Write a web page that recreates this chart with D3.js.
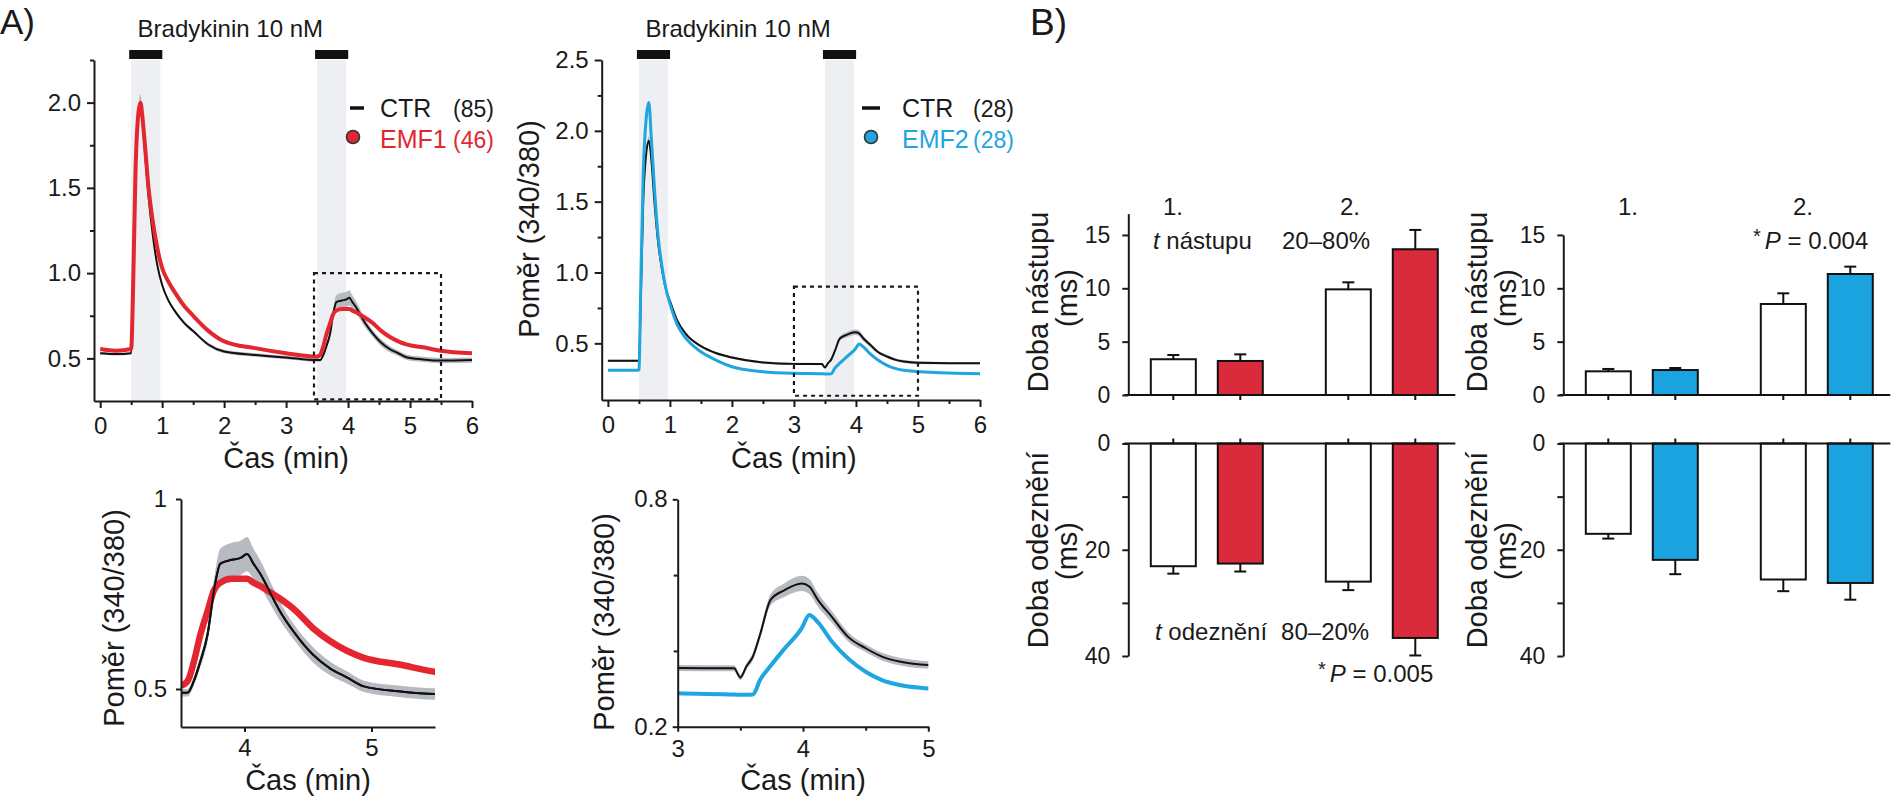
<!DOCTYPE html>
<html>
<head>
<meta charset="utf-8">
<script src="https://cdnjs.cloudflare.com/ajax/libs/d3/7.8.5/d3.min.js"></script>
<style>
  body { margin: 0; background: #fff; }
  svg text { font-family: "Liberation Sans", Arial, Helvetica, sans-serif; fill: #1a1a1a; }
  .axis path, .axis line { stroke: #1a1a1a; stroke-width: 2; }
  .axis text { font-size: 24px; }
  .bar-axis text { font-size: 23px; }
</style>
</head>
<body>
<script>
// ---- traces, panel A left (CTR vs EMF1) ----
const time1     = [0, 0.25, 0.5, 0.53, 0.57, 0.62, 0.65, 0.68, 0.72, 0.78, 0.85, 0.92, 1.0, 1.1, 1.2, 1.35, 1.5, 1.75, 2.0, 2.5, 3.0, 3.5, 3.55, 3.6, 3.65, 3.71, 3.76, 3.81, 3.9, 3.97, 4.02, 4.07, 4.13, 4.2, 4.27, 4.4, 4.54, 4.67, 4.81, 4.94, 5.21, 5.5, 6.0];
const ctr1Ratio = [0.53, 0.525, 0.53, 0.9, 1.6, 1.95, 2.0, 1.9, 1.72, 1.45, 1.22, 1.05, 0.93, 0.84, 0.78, 0.71, 0.66, 0.58, 0.54, 0.52, 0.505, 0.49, 0.49, 0.52, 0.57, 0.645, 0.76, 0.83, 0.84, 0.845, 0.855, 0.83, 0.8, 0.755, 0.71, 0.645, 0.59, 0.555, 0.53, 0.507, 0.494, 0.487, 0.49];
const ctr1Sem   = [0.008, 0.008, 0.008, 0.02, 0.03, 0.04, 0.05, 0.04, 0.03, 0.02, 0.015, 0.012, 0.01, 0.01, 0.01, 0.01, 0.01, 0.01, 0.01, 0.01, 0.01, 0.01, 0.01, 0.012, 0.015, 0.02, 0.03, 0.04, 0.045, 0.045, 0.045, 0.04, 0.035, 0.03, 0.025, 0.02, 0.02, 0.018, 0.016, 0.015, 0.015, 0.015, 0.015];
const emf1Ratio = [0.555, 0.545, 0.555, 0.9, 1.6, 1.95, 2.0, 1.92, 1.76, 1.5, 1.3, 1.15, 1.03, 0.95, 0.89, 0.81, 0.75, 0.66, 0.6, 0.56, 0.53, 0.51, 0.52, 0.57, 0.64, 0.706, 0.76, 0.78, 0.79, 0.79, 0.79, 0.78, 0.77, 0.755, 0.74, 0.707, 0.66, 0.627, 0.6, 0.582, 0.565, 0.545, 0.53];

// ---- traces, panel A right (CTR vs EMF2) ----
const time2     = [0, 0.5, 0.53, 0.57, 0.62, 0.66, 0.7, 0.75, 0.8, 0.88, 0.95, 1.0, 1.12, 1.25, 1.5, 1.75, 2.0, 2.5, 3.0, 3.45, 3.5, 3.55, 3.6, 3.66, 3.74, 3.85, 3.99, 4.05, 4.12, 4.23, 4.36, 4.5, 4.63, 4.77, 5.0, 5.5, 6.0];
const ctr2Ratio = [0.377, 0.377, 0.8, 1.5, 1.85, 1.93, 1.8, 1.5, 1.25, 1.0, 0.86, 0.8, 0.66, 0.57, 0.48, 0.43, 0.40, 0.365, 0.355, 0.354, 0.33, 0.36, 0.385, 0.446, 0.534, 0.56, 0.578, 0.57, 0.534, 0.49, 0.437, 0.407, 0.385, 0.372, 0.363, 0.36, 0.36];
const ctr2Sem   = [0.008, 0.008, 0.015, 0.02, 0.025, 0.03, 0.025, 0.02, 0.015, 0.012, 0.01, 0.01, 0.008, 0.008, 0.008, 0.008, 0.008, 0.008, 0.008, 0.008, 0.008, 0.008, 0.01, 0.012, 0.015, 0.018, 0.02, 0.02, 0.018, 0.015, 0.012, 0.01, 0.01, 0.01, 0.01, 0.008, 0.008];
const emf2Ratio = [0.31, 0.31, 0.9, 1.7, 2.1, 2.2, 1.95, 1.6, 1.3, 1.02, 0.86, 0.78, 0.63, 0.54, 0.44, 0.38, 0.335, 0.3, 0.288, 0.285, 0.284, 0.284, 0.285, 0.325, 0.36, 0.405, 0.46, 0.495, 0.475, 0.425, 0.38, 0.345, 0.323, 0.31, 0.301, 0.29, 0.285];

const stimWindows = [[0.5, 0.97], [3.5, 3.97]];

// ---- bars, panel B ----
const barGroups = ['1.', '2.'];
const barSeries = ['CTR', 'EMF'];
const onsetCtrA    = [3.35, 9.9];   const onsetCtrAErr = [0.4, 0.66];
const onsetEmf1    = [3.19, 13.66]; const onsetEmf1Err = [0.62, 1.81];
const decayCtrA    = [23.1, 26.0];  const decayCtrAErr = [1.4, 1.6];
const decayEmf1    = [22.6, 36.6];  const decayEmf1Err = [1.5, 3.3];
const onsetCtrB    = [2.22, 8.53];  const onsetCtrBErr = [0.22, 1.0];
const onsetEmf2    = [2.34, 11.34]; const onsetEmf2Err = [0.19, 0.69];
const decayCtrB    = [17.0, 25.6];  const decayCtrBErr = [0.9, 2.2];
const decayEmf2    = [21.9, 26.25]; const decayEmf2Err = [2.7, 3.15];

// ---- ticks ----
const timeTicks    = [0, 1, 2, 3, 4, 5, 6];
const timeMinor    = [0.5, 1.5, 2.5, 3.5, 4.5, 5.5];
const ratioTicksL  = [0.5, 1.0, 1.5, 2.0];
const ratioTicksR  = [0.5, 1.0, 1.5, 2.0, 2.5];
const ratioMinor   = [0.75, 1.25, 1.75, 2.25];
const inset1XTicks = [4, 5];
const inset1YTicks = [0.5, 1];
const inset2XTicks = [3, 4, 5];
const inset2XMinor = [3.5, 4.5];
const inset2YTicks = [0.2, 0.8];
const inset2YMinor = [0.4, 0.6];
const onsetTicks   = [0, 5, 10, 15];
const decayTicks   = [0, 20, 40];
const decayMinor   = [10, 30];

const RED      = '#e3262f';
const RED_BAR  = '#d92b3c';
const BLUE     = '#1fa5df';
const BLUE_BAR = '#1ba3e0';
const GREY     = '#b7bac1';
const BAND     = '#eeeff3';

const svg = d3.select( 'body' ).append( 'svg' )
              .attr( 'width', 1891 )
              .attr( 'height', 800 );

let clipCount = 0;

const zip = ( t, v, s ) => t.map( ( d, i ) => ( { t : d, v : v[i], s : s ? s[i] : 0 } ) );

const tracePanel = c => {
	const x = d3.scaleLinear().domain( c.xDomain ).range( c.xRange );
	const y = d3.scaleLinear().domain( c.yDomain ).range( c.yRange );
	const g = svg.append( 'g' );

	if ( c.stim ) {
		g.selectAll( null ).data( stimWindows ).enter().append( 'rect' )
		 .attr( 'x', d => x( d[0] ) )
		 .attr( 'width', d => x( d[1] ) - x( d[0] ) )
		 .attr( 'y', c.yRange[1] )
		 .attr( 'height', c.yRange[0] - c.yRange[1] )
		 .attr( 'fill', BAND );
		g.selectAll( null ).data( stimWindows ).enter().append( 'rect' )
		 .attr( 'x', d => x( d[0] ) - 2 )
		 .attr( 'width', d => x( d[1] ) - x( d[0] ) + 4 )
		 .attr( 'y', 50 )
		 .attr( 'height', 9 )
		 .attr( 'fill', '#111' );
		g.append( 'text' )
		 .attr( 'x', x( 2.1 ) ).attr( 'y', 37 )
		 .attr( 'text-anchor', 'middle' )
		 .style( 'font-size', '24px' )
		 .text( 'Bradykinin 10 nM' );
	}

	clipCount += 1;
	const id = 'clip' + clipCount;
	g.append( 'clipPath' ).attr( 'id', id ).append( 'rect' )
	 .attr( 'x', c.xRange[0] ).attr( 'y', c.yRange[1] - 12 )
	 .attr( 'width', c.xRange[1] - c.xRange[0] )
	 .attr( 'height', c.yRange[0] - c.yRange[1] + 12 );
	const plot = g.append( 'g' ).attr( 'clip-path', `url(#${id})` );

	const line = d3.line().x( d => x( d.t ) ).y( d => y( d.v ) ).curve( d3.curveMonotoneX );
	const area = d3.area().x( d => x( d.t ) )
	               .y0( d => y( d.v - d.s ) ).y1( d => y( d.v + d.s ) )
	               .curve( d3.curveMonotoneX );

	c.series.filter( s => s.sem ).forEach( s => {
		plot.append( 'path' ).datum( s.data ).attr( 'd', area ).attr( 'fill', GREY );
	} );
	c.series.forEach( s => {
		plot.append( 'path' ).datum( s.data )
		    .attr( 'd', line )
		    .attr( 'fill', 'none' )
		    .attr( 'stroke', s.color )
		    .attr( 'stroke-width', s.width )
		    .attr( 'stroke-linejoin', 'round' );
	} );

	if ( c.box ) {
		const b = c.box;
		g.append( 'rect' )
		 .attr( 'x', x( b[0] ) ).attr( 'y', y( b[3] ) )
		 .attr( 'width', x( b[1] ) - x( b[0] ) )
		 .attr( 'height', y( b[2] ) - y( b[3] ) )
		 .attr( 'fill', 'none' )
		 .attr( 'stroke', '#1a1a1a' )
		 .attr( 'stroke-width', 2.2 )
		 .attr( 'stroke-dasharray', '4 4' );
	}

	g.append( 'g' ).attr( 'class', 'axis' )
	 .attr( 'transform', `translate(0,${c.yRange[0]})` )
	 .call( d3.axisBottom( x ).tickValues( c.xTicks ).tickFormat( d3.format( 'd' ) )
	          .tickSize( c.tick ).tickPadding( c.xPad ).tickSizeOuter( 0 ) );
	if ( c.xMinor ) {
		g.append( 'g' ).attr( 'class', 'axis' )
		 .attr( 'transform', `translate(0,${c.yRange[0]})` )
		 .call( d3.axisBottom( x ).tickValues( c.xMinor ).tickFormat( '' ).tickSize( 4 ) )
		 .select( '.domain' ).remove();
	}
	g.append( 'g' ).attr( 'class', 'axis' )
	 .attr( 'transform', `translate(${c.xRange[0]},0)` )
	 .call( d3.axisLeft( y ).tickValues( c.yTicks ).tickFormat( d3.format( c.yFormat ) )
	          .tickSize( c.tick ).tickPadding( c.yPad ).tickSizeOuter( 0 ) );
	if ( c.yMinor ) {
		g.append( 'g' ).attr( 'class', 'axis' )
		 .attr( 'transform', `translate(${c.xRange[0]},0)` )
		 .call( d3.axisLeft( y ).tickValues( c.yMinor ).tickFormat( '' ).tickSize( 4 ) )
		 .select( '.domain' ).remove();
	}

	g.append( 'text' )
	 .attr( 'x', x( c.xLabelAt ) ).attr( 'y', c.xLabelY )
	 .attr( 'text-anchor', 'middle' )
	 .style( 'font-size', '29px' )
	 .text( 'Čas (min)' );

	if ( c.yLabel ) {
		g.append( 'text' )
		 .attr( 'transform', `translate(${c.yLabel[0]},${c.yLabel[1]}) rotate(-90)` )
		 .attr( 'text-anchor', 'middle' )
		 .style( 'font-size', '29px' )
		 .text( 'Poměr (340/380)' );
	}
	return g;
};

const legend = ( g, l ) => {
	g.append( 'line' )
	 .attr( 'x1', l.dash[0] ).attr( 'x2', l.dash[1] )
	 .attr( 'y1', 108 ).attr( 'y2', 108 )
	 .attr( 'stroke', '#111' ).attr( 'stroke-width', 3.5 );
	g.append( 'text' ).attr( 'x', l.textX ).attr( 'y', 117 ).style( 'font-size', '25px' ).text( 'CTR' );
	g.append( 'text' ).attr( 'x', l.countX ).attr( 'y', 117 ).style( 'font-size', '23px' ).text( l.ctrN );
	g.append( 'circle' )
	 .attr( 'cx', l.circleX ).attr( 'cy', 137 ).attr( 'r', 6.5 )
	 .attr( 'fill', l.color ).attr( 'stroke', '#333' ).attr( 'stroke-width', 1.6 );
	g.append( 'text' ).attr( 'x', l.textX ).attr( 'y', 148 ).style( 'font-size', '25px' ).style( 'fill', l.color ).text( l.emf );
	g.append( 'text' ).attr( 'x', l.countX ).attr( 'y', 148 ).style( 'font-size', '23px' ).style( 'fill', l.color ).text( l.emfN );
};

// ---------- A) ----------
svg.append( 'text' ).attr( 'x', 0 ).attr( 'y', 34 ).style( 'font-size', '35px' ).text( 'A)' );

const pA1 = tracePanel( {
	xDomain : [-0.1, 6], xRange : [94, 472],
	yDomain : [0.25, 2.25], yRange : [401, 60],
	xTicks : timeTicks, xMinor : timeMinor,
	yTicks : ratioTicksL, yMinor : ratioMinor, yFormat : '.1f',
	tick : 7, xPad : 9, yPad : 6,
	stim : true, box : [3.45, 5.5, 0.26, 1.0],
	xLabelAt : 3, xLabelY : 468,
	series : [
		{ data : zip( time1, ctr1Ratio, ctr1Sem ), sem : true, color : '#111', width : 2 },
		{ data : zip( time1, emf1Ratio ), color : RED, width : 4 }
	]
} );
legend( pA1, { dash : [350, 364], circleX : 353, textX : 380, countX : 453, ctrN : '(85)', emf : 'EMF1', emfN : '(46)', color : RED } );

const pA2 = tracePanel( {
	xDomain : [-0.1, 6], xRange : [601.7, 980],
	yDomain : [0.1, 2.5], yRange : [400, 60],
	xTicks : timeTicks, xMinor : timeMinor,
	yTicks : ratioTicksR, yMinor : ratioMinor, yFormat : '.1f',
	tick : 7, xPad : 9, yPad : 6,
	stim : true, box : [3.0, 5.0, 0.13, 0.9],
	xLabelAt : 3, xLabelY : 468, yLabel : [539, 229],
	series : [
		{ data : zip( time2, ctr2Ratio, ctr2Sem ), sem : true, color : '#111', width : 2 },
		{ data : zip( time2, emf2Ratio ), color : BLUE, width : 3 }
	]
} );
legend( pA2, { dash : [862, 880], circleX : 871, textX : 902, countX : 973, ctrN : '(28)', emf : 'EMF2', emfN : '(28)', color : BLUE } );

// insets
tracePanel( {
	xDomain : [3.5, 5.5], xRange : [181, 435],
	yDomain : [0.4, 1.0], yRange : [727, 499],
	xTicks : inset1XTicks, yTicks : inset1YTicks, yFormat : '',
	tick : 5, xPad : 7, yPad : 9,
	xLabelAt : 4.5, xLabelY : 790, yLabel : [124, 618],
	series : [
		{ data : zip( time1, ctr1Ratio, ctr1Sem ), sem : true, color : '#111', width : 2 },
		{ data : zip( time1, emf1Ratio ), color : RED, width : 6.5 },
		{ data : zip( time1, ctr1Ratio ), color : '#111', width : 2 }
	]
} );

tracePanel( {
	xDomain : [3, 5], xRange : [677.7, 928.3],
	yDomain : [0.2, 0.8], yRange : [726.7, 499.3],
	xTicks : inset2XTicks, xMinor : inset2XMinor,
	yTicks : inset2YTicks, yMinor : inset2YMinor, yFormat : '.1f',
	tick : 5, xPad : 8, yPad : 5,
	xLabelAt : 4, xLabelY : 790, yLabel : [614, 622],
	series : [
		{ data : zip( time2, ctr2Ratio, ctr2Sem ), sem : true, color : '#111', width : 2 },
		{ data : zip( time2, emf2Ratio ), color : BLUE, width : 4 }
	]
} );

// ---------- B) ----------
svg.append( 'text' ).attr( 'x', 1030 ).attr( 'y', 35 ).style( 'font-size', '37px' ).text( 'B)' );

const barPanel = c => {
	const gx = d3.scaleBand().domain( barGroups )
	             .range( [c.axisX, c.axisX + 332] )
	             .paddingInner( 0.2 ).paddingOuter( 0.0486 );
	const sx = d3.scaleBand().domain( barSeries )
	             .range( [0, gx.bandwidth()] )
	             .paddingInner( 0.328 ).paddingOuter( 0.209 );
	const yOn  = d3.scaleLinear().domain( [0, c.onsetMax] ).range( [395, 395 - c.onsetMax * 10.67] );
	const yOff = d3.scaleLinear().domain( [0, 40] ).range( [443.5, 656] );
	const fill = { CTR : '#fff', EMF : c.color };

	const rows = [];
	barGroups.forEach( ( grp, gi ) => {
		barSeries.forEach( ser => {
			const src = ser === 'CTR' ? c.ctr : c.emf;
			rows.push( { grp, ser, on : src.on[gi], onErr : src.onErr[gi], off : src.off[gi], offErr : src.offErr[gi] } );
		} );
	} );
	const cx = d => gx( d.grp ) + sx( d.ser ) + sx.bandwidth() / 2;
	const g = svg.append( 'g' );

	// error bars (drawn under the bars)
	const whisk = ( v, e, y ) => rows.forEach( d => {
		g.append( 'line' ).attr( 'x1', cx( d ) ).attr( 'x2', cx( d ) )
		 .attr( 'y1', y( d[v] ) ).attr( 'y2', y( d[v] + d[e] ) )
		 .attr( 'stroke', '#111' ).attr( 'stroke-width', 2 );
		g.append( 'line' ).attr( 'x1', cx( d ) - 6 ).attr( 'x2', cx( d ) + 6 )
		 .attr( 'y1', y( d[v] + d[e] ) ).attr( 'y2', y( d[v] + d[e] ) )
		 .attr( 'stroke', '#111' ).attr( 'stroke-width', 2 );
	} );
	whisk( 'on', 'onErr', yOn );
	whisk( 'off', 'offErr', yOff );

	g.selectAll( null ).data( rows ).enter().append( 'rect' )
	 .attr( 'x', d => gx( d.grp ) + sx( d.ser ) )
	 .attr( 'width', sx.bandwidth() )
	 .attr( 'y', d => yOn( d.on ) )
	 .attr( 'height', d => yOn( 0 ) - yOn( d.on ) )
	 .attr( 'fill', d => fill[d.ser] )
	 .attr( 'stroke', '#111' ).attr( 'stroke-width', 2 );

	g.selectAll( null ).data( rows ).enter().append( 'rect' )
	 .attr( 'x', d => gx( d.grp ) + sx( d.ser ) )
	 .attr( 'width', sx.bandwidth() )
	 .attr( 'y', yOff( 0 ) )
	 .attr( 'height', d => yOff( d.off ) - yOff( 0 ) )
	 .attr( 'fill', d => fill[d.ser] )
	 .attr( 'stroke', '#111' ).attr( 'stroke-width', 2 );

	// category axes
	[[yOn( 0 ), 5], [yOff( 0 ), -5]].forEach( ( [yy, dir] ) => {
		g.append( 'line' ).attr( 'x1', c.axisX - 4 ).attr( 'x2', c.axisX + 327 )
		 .attr( 'y1', yy ).attr( 'y2', yy )
		 .attr( 'stroke', '#111' ).attr( 'stroke-width', 2 );
		g.selectAll( null ).data( rows ).enter().append( 'line' )
		 .attr( 'x1', cx ).attr( 'x2', cx )
		 .attr( 'y1', yy ).attr( 'y2', yy + dir )
		 .attr( 'stroke', '#111' ).attr( 'stroke-width', 2 );
	} );

	g.append( 'g' ).attr( 'class', 'axis bar-axis' )
	 .attr( 'transform', `translate(${c.axisX},0)` )
	 .call( d3.axisLeft( yOn ).tickValues( onsetTicks ).tickSize( 6 ).tickPadding( 12 ).tickSizeOuter( 0 ) );
	g.append( 'g' ).attr( 'class', 'axis bar-axis' )
	 .attr( 'transform', `translate(${c.axisX},0)` )
	 .call( d3.axisLeft( yOff ).tickValues( decayTicks ).tickSize( 6 ).tickPadding( 12 ).tickSizeOuter( 0 ) );
	g.append( 'g' ).attr( 'class', 'axis bar-axis' )
	 .attr( 'transform', `translate(${c.axisX},0)` )
	 .call( d3.axisLeft( yOff ).tickValues( decayMinor ).tickFormat( '' ).tickSize( 6 ) )
	 .select( '.domain' ).remove();

	const yl = ( x, y, t ) => g.append( 'text' )
		.attr( 'transform', `translate(${x},${y}) rotate(-90)` )
		.attr( 'text-anchor', 'middle' )
		.style( 'font-size', '29px' )
		.text( t );
	yl( c.labelX, 302, 'Doba nástupu' );
	yl( c.labelX + 29, 298, '(ms)' );
	yl( c.labelX, 550, 'Doba odeznění' );
	yl( c.labelX + 29, 551, '(ms)' );
	return g;
};

const note = ( g, x, y, parts ) => {
	const t = g.append( 'text' ).attr( 'x', x ).attr( 'y', y ).style( 'font-size', '24px' );
	parts.forEach( p => {
		const s = t.append( 'tspan' ).text( p.t );
		if ( p.i ) s.style( 'font-style', 'italic' );
		if ( p.dx ) s.attr( 'dx', p.dx );
		if ( p.size ) s.style( 'font-size', p.size ).attr( 'dy', -6 );
		if ( p.back ) s.attr( 'dy', 6 );
	} );
};

const b1 = barPanel( {
	axisX : 1128.3, onsetMax : 17, color : RED_BAR, labelX : 1048,
	ctr : { on : onsetCtrA, onErr : onsetCtrAErr, off : decayCtrA, offErr : decayCtrAErr },
	emf : { on : onsetEmf1, onErr : onsetEmf1Err, off : decayEmf1, offErr : decayEmf1Err }
} );
note( b1, 1163, 215, [{ t : '1.' }] );
note( b1, 1340, 215, [{ t : '2.' }] );
note( b1, 1153, 249, [{ t : 't', i : true }, { t : ' nástupu' }] );
note( b1, 1282, 249, [{ t : '20–80%' }] );
note( b1, 1155, 640, [{ t : 't', i : true }, { t : ' odeznění' }, { t : '80–20%', dx : 14 }] );
note( b1, 1318, 682, [{ t : '*', size : '20px' }, { t : 'P', i : true, dx : 4, back : true }, { t : ' = 0.005' }] );

const b2 = barPanel( {
	axisX : 1563.3, onsetMax : 15, color : BLUE_BAR, labelX : 1487,
	ctr : { on : onsetCtrB, onErr : onsetCtrBErr, off : decayCtrB, offErr : decayCtrBErr },
	emf : { on : onsetEmf2, onErr : onsetEmf2Err, off : decayEmf2, offErr : decayEmf2Err }
} );
note( b2, 1618, 215, [{ t : '1.' }] );
note( b2, 1793, 215, [{ t : '2.' }] );
note( b2, 1753, 249, [{ t : '*', size : '20px' }, { t : 'P', i : true, dx : 4, back : true }, { t : ' = 0.004' }] );
</script>
</body>
</html>
